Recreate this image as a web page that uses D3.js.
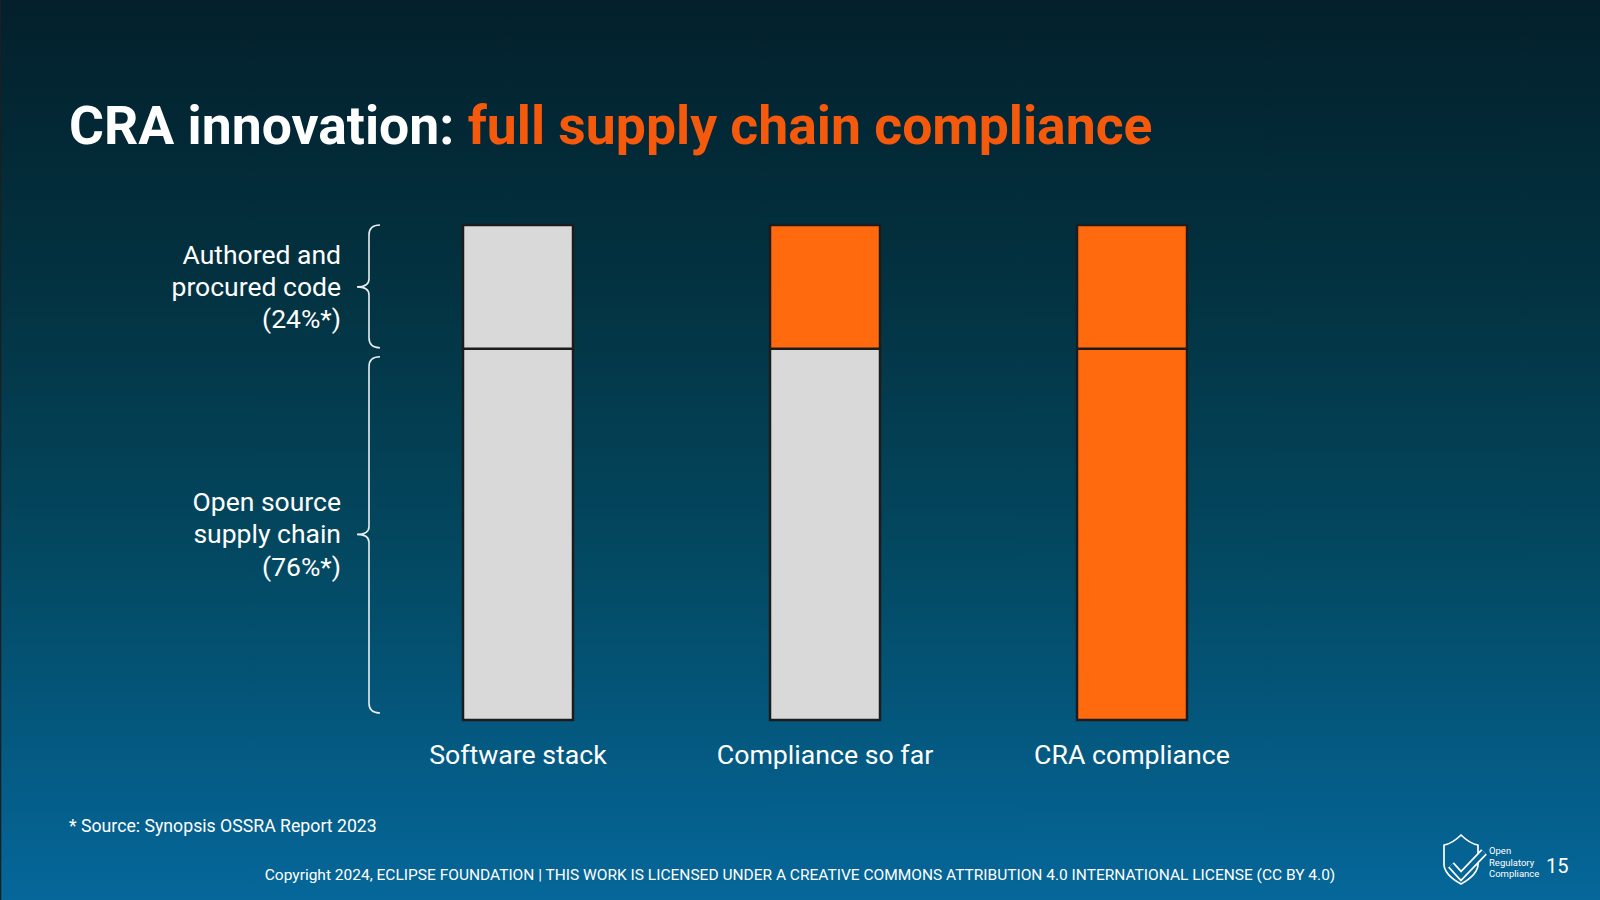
<!DOCTYPE html>
<html>
<head>
<meta charset="utf-8">
<script src="https://cdn.jsdelivr.net/npm/d3@7"></script>
<style>
  html, body { margin: 0; padding: 0; background: #03202c; }
  svg { display: block; }
  text { font-family: Roboto, "Noto Sans", sans-serif; }
</style>
</head>
<body>
<svg id="chart" width="1600" height="900"></svg>
<script>
// ---- data ----
const categories = ["Software stack", "Compliance so far", "CRA compliance"];
const segmentNames = ["Open source supply chain", "Authored and procured code"];
const segmentShares = [75, 25];                 // drawn share of the stack
const segmentLabels = [
  ["Open source", "supply chain", "(76%*)"],
  ["Authored and", "procured code", "(24%*)"]
];
const supplyChainCompliant = [false, false, true];
const authoredCompliant = [false, true, true];
const titleWhite = "CRA innovation: ";
const titleOrange = "full supply chain compliance";
const footnote = "* Source: Synopsis OSSRA Report 2023";
const copyright = "Copyright 2024, ECLIPSE FOUNDATION | THIS WORK IS LICENSED UNDER A CREATIVE COMMONS ATTRIBUTION 4.0 INTERNATIONAL LICENSE (CC BY 4.0)";
const logoLines = ["Open", "Regulatory", "Compliance"];
const pageNumber = "15";

// ---- setup ----
const W = 1600, H = 900;
const svg = d3.select("#chart");
const defs = svg.append("defs");
const grad = defs.append("linearGradient").attr("id", "bg")
  .attr("x1", 0).attr("y1", 0).attr("x2", 0).attr("y2", 1);
[[0, "#03202c"], [0.3, "#03313f"], [0.6, "#03475f"], [1, "#05679a"]]
  .forEach(([o, c]) => grad.append("stop").attr("offset", o).attr("stop-color", c));
svg.append("rect").attr("width", W).attr("height", H).attr("fill", "url(#bg)");
svg.append("line").attr("x1", 0.5).attr("x2", 0.5).attr("y1", 0).attr("y2", H)
  .attr("stroke", "#1b1f22").attr("stroke-width", 1.5);

const ORANGE = "#ff6a0f", GREY = "#d9d9d9";

// title
const title = svg.append("text").attr("x", 69).attr("y", 144)
  .attr("font-size", 53.5).attr("font-weight", 700);
title.append("tspan").attr("fill", "#ffffff").text(titleWhite);
title.append("tspan").attr("fill", "#f5590c").text(titleOrange);

// scales
const x = d3.scalePoint().domain(categories).range([518, 1132]);
const barW = 110;
const y = d3.scaleLinear().domain([0, 100]).range([720, 225]);

// stack
const rows = categories.map((c, i) => ({
  cat: c,
  vals: [
    { name: segmentNames[0], v: segmentShares[0], on: supplyChainCompliant[i] },
    { name: segmentNames[1], v: segmentShares[1], on: authoredCompliant[i] }
  ]
}));
rows.forEach(r => { let acc = 0; r.vals.forEach(s => { s.y0 = acc; acc += s.v; s.y1 = acc; }); });

const bars = svg.append("g").selectAll("g").data(rows).join("g");
bars.selectAll("rect").data(d => d.vals.map(s => ({ ...s, cat: d.cat }))).join("rect")
  .attr("x", d => x(d.cat) - barW / 2)
  .attr("width", barW)
  .attr("y", d => y(d.y1))
  .attr("height", d => y(d.y0) - y(d.y1))
  .attr("fill", d => d.on ? ORANGE : GREY)
  .attr("stroke", "#1c1c1c")
  .attr("stroke-width", 2.5);

// category labels
svg.append("g").selectAll("text").data(categories).join("text")
  .attr("x", d => x(d)).attr("y", 764)
  .attr("text-anchor", "middle").attr("font-size", 26.7).attr("fill", "#ffffff")
  .text(d => d);

// braces + segment labels
let acc = 0;
const braceData = segmentShares.map((v, i) => {
  const d = { y0: acc, y1: acc + v, lines: segmentLabels[i] };
  acc += v; return d;
});
const bx = 369, tipX = 357, endX = 380, r = 10;
braceData.forEach((b, i) => {
  const top = y(b.y1) + (i === 1 ? 0 : 8);
  const bot = y(b.y0) - (i === 1 ? 1 : 7);
  const mid = (y(b.y0) + y(b.y1)) / 2;
  const p = d3.path();
  p.moveTo(endX, top);
  p.quadraticCurveTo(bx, top, bx, top + r);
  p.lineTo(bx, mid - 8);
  p.quadraticCurveTo(bx, mid, tipX, mid);
  p.quadraticCurveTo(bx, mid, bx, mid + 8);
  p.lineTo(bx, bot - r);
  p.quadraticCurveTo(bx, bot, endX, bot);
  svg.append("path").attr("d", p.toString()).attr("fill", "none")
    .attr("stroke", "#e8eef2").attr("stroke-width", 1.6);
  const t = svg.append("text").attr("text-anchor", "end").attr("font-size", 26.5)
    .attr("fill", "#ffffff");
  b.lines.forEach((ln, k) => {
    t.append("tspan").attr("x", 341).attr("y", mid + 9 + (k - 1) * 32.3).text(ln);
  });
});

// footnote & copyright
svg.append("text").attr("x", 69).attr("y", 832).attr("font-size", 17.7)
  .attr("fill", "#ffffff").text(footnote);
svg.append("text").attr("x", 800).attr("y", 880).attr("text-anchor", "middle")
  .attr("font-size", 15.5).attr("fill", "#ffffff").text(copyright);

// logo
const lg = svg.append("g");
lg.append("path")
  .attr("d", "M1461,835 C1455,841 1450,844 1444,845 L1444,864 C1444,873 1452,879 1461,884 C1470,879 1478,873 1478,864 L1478,845 C1472,844 1467,841 1461,835 Z")
  .attr("fill", "none").attr("stroke", "#ffffff").attr("stroke-width", 1.7).attr("stroke-linejoin", "round");
lg.append("path").attr("d", "M1451,865 L1461,876 L1484,852")
  .attr("fill", "none").attr("stroke", "#ffffff").attr("stroke-width", 8).attr("stroke-linejoin", "miter");
lg.append("path").attr("d", "M1451,865 L1461,876 L1484,852")
  .attr("fill", "none").attr("stroke", "#05669a").attr("stroke-width", 4.6).attr("stroke-linejoin", "miter");
lg.append("g").selectAll("text").data(logoLines).join("text")
  .attr("x", 1489).attr("y", (d, i) => 854 + i * 11.6)
  .attr("font-size", 9.5).attr("fill", "#ffffff").text(d => d);
svg.append("text").attr("x", 1546).attr("y", 873).attr("font-size", 20)
  .attr("fill", "#ffffff").text(pageNumber);
</script>
</body>
</html>
